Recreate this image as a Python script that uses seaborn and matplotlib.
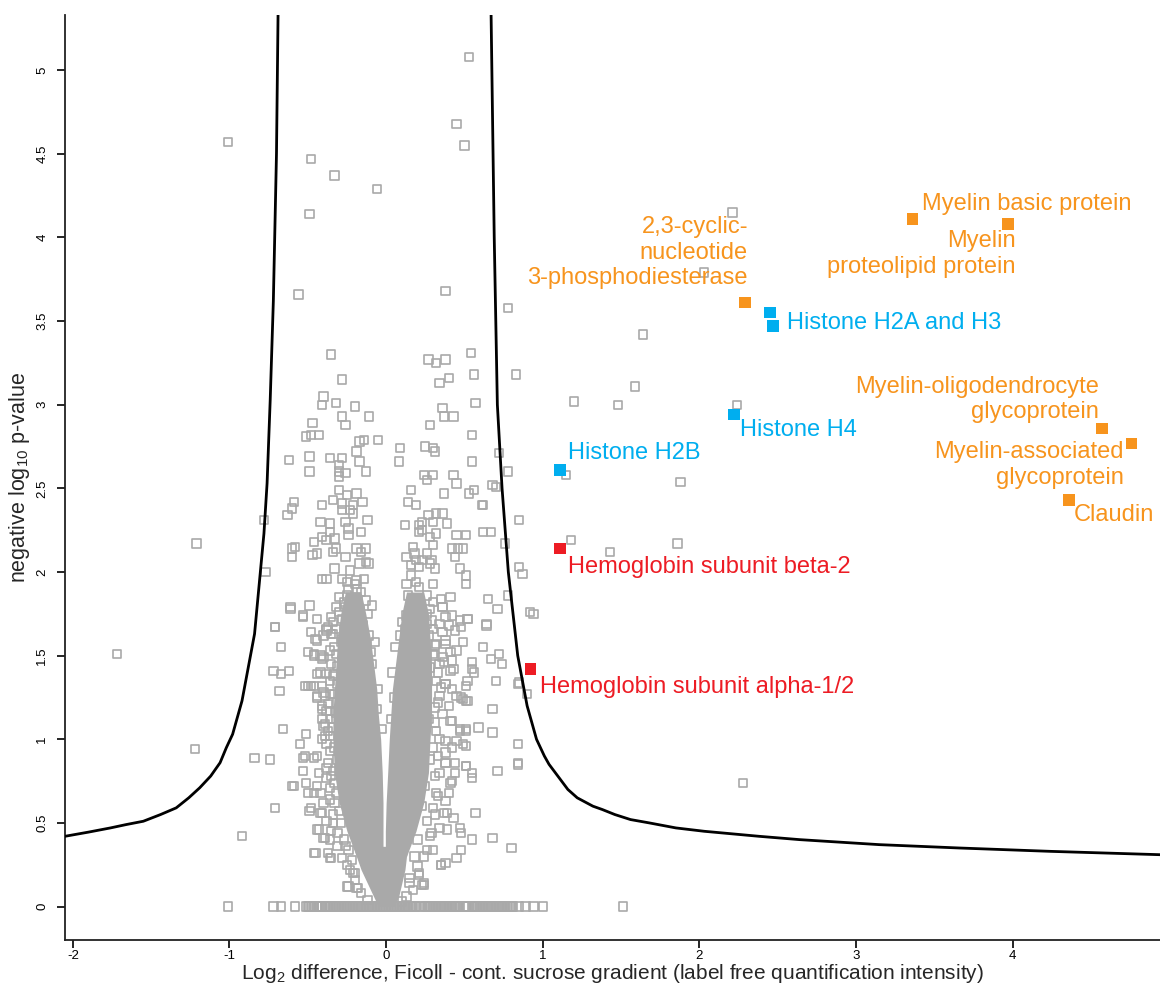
import numpy as np
import pandas as pd
import matplotlib
matplotlib.use("Agg")
import matplotlib.pyplot as plt
import seaborn as sns

# ---------------- data ----------------
# isolated grey proteins (x = log2 difference, y = -log10 p)
gray_outliers = [
    (-1.72, 1.51), (-1.21, 2.17), (-1.22, 0.94), (-0.92, 0.42), (-0.84, 0.89), (-0.74, 0.88),
    (-0.71, 0.59), (-0.78, 2.31), (-0.77, 2.00), (-0.71, 1.67), (-0.67, 1.55), (-0.68, 1.29),
    (-0.66, 1.06), (-0.72, 1.41), (-0.67, 1.39), (-0.62, 1.41), (-0.62, 2.67), (-0.59, 2.42),
    (-0.60, 2.38), (-0.63, 2.34), (-0.58, 2.15), (-0.60, 2.14), (-0.60, 2.09), (-0.61, 1.78),
    (-0.59, 0.72), (-1.01, 4.57), (-0.48, 4.47), (-0.33, 4.37), (-0.49, 4.14), (-0.56, 3.66),
    (-0.06, 4.29), (0.45, 4.68), (0.50, 4.55), (0.53, 5.08), (0.38, 3.68), (0.78, 3.58),
    (2.03, 3.79), (2.21, 4.15), (1.64, 3.42), (1.59, 3.11), (1.48, 3.00), (1.20, 3.02),
    (2.24, 3.00), (1.15, 2.58), (1.88, 2.54), (1.18, 2.19), (1.43, 2.12), (1.86, 2.17),
    (0.92, 1.76), (2.28, 0.74), (0.80, 0.35), (0.84, 0.86), (0.84, 1.33), (0.85, 2.03),
    (0.87, 1.99), (0.85, 2.31), (0.83, 3.18), (0.78, 2.60), (0.72, 2.71), (0.70, 1.35),
    (0.85, 1.34), (0.90, 1.27), (0.68, 1.18), (0.68, 1.04), (0.84, 0.97), (0.84, 0.85),
    (0.71, 0.81), (0.68, 0.41), (0.94, 1.75), (0.71, 1.78), (0.65, 1.84), (0.78, 1.86),
    (0.76, 2.17), (0.62, 2.24), (0.67, 2.24), (0.68, 2.52), (0.70, 2.51), (0.62, 2.40),
]

# upper part of the cloud (roughly y 1.9 - 3.3)
gray_upper = [
    (-0.35, 3.30), (-0.28, 3.15), (-0.40, 3.05), (-0.32, 3.01), (-0.41, 3.00), (-0.20, 2.99),
    (-0.28, 2.93), (-0.11, 2.93), (-0.47, 2.89), (-0.26, 2.88), (-0.51, 2.81), (-0.48, 2.82),
    (-0.43, 2.82), (-0.17, 2.78), (-0.14, 2.79), (-0.05, 2.79), (-0.19, 2.72), (-0.49, 2.69),
    (-0.36, 2.68), (-0.28, 2.68), (-0.17, 2.66), (-0.49, 2.60), (-0.30, 2.64), (-0.30, 2.60),
    (-0.26, 2.59), (-0.30, 2.57), (-0.13, 2.60), (-0.30, 2.49), (-0.25, 2.46), (-0.19, 2.47),
    (-0.41, 2.40), (-0.34, 2.43), (-0.28, 2.41), (-0.28, 2.37), (-0.23, 2.37), (-0.21, 2.40),
    (-0.15, 2.42), (-0.21, 2.35), (-0.12, 2.31), (-0.42, 2.30), (-0.36, 2.29), (-0.36, 2.24),
    (-0.26, 2.30), (-0.24, 2.26), (-0.24, 2.22), (-0.16, 2.24), (-0.46, 2.18), (-0.41, 2.21),
    (-0.38, 2.19), (-0.33, 2.20), (-0.47, 2.10), (-0.44, 2.11), (-0.34, 2.12), (-0.32, 2.14),
    (-0.26, 2.09), (-0.19, 2.14), (-0.13, 2.14), (-0.16, 2.12), (-0.33, 2.02), (-0.23, 2.01),
    (-0.17, 2.05), (-0.13, 2.06), (-0.11, 2.05), (-0.41, 1.96), (-0.38, 1.96), (-0.28, 1.96),
    (-0.25, 1.94), (-0.19, 1.95), (-0.14, 1.96),
    (0.54, 3.31), (0.27, 3.27), (0.32, 3.25), (0.38, 3.27), (0.56, 3.18), (0.34, 3.13),
    (0.40, 3.16), (0.57, 3.01), (0.36, 2.98), (0.37, 2.93), (0.43, 2.93), (0.28, 2.88),
    (0.55, 2.82), (0.09, 2.74), (0.25, 2.75), (0.30, 2.74), (0.31, 2.72), (0.08, 2.66),
    (0.55, 2.66), (0.24, 2.58), (0.30, 2.58), (0.26, 2.55), (0.43, 2.58), (0.45, 2.53),
    (0.16, 2.49), (0.37, 2.47), (0.53, 2.47), (0.56, 2.49), (0.14, 2.42), (0.19, 2.40),
    (0.61, 2.40), (0.27, 2.34), (0.32, 2.35), (0.36, 2.35), (0.30, 2.30), (0.12, 2.28),
    (0.21, 2.28), (0.23, 2.30), (0.21, 2.24), (0.23, 2.25), (0.39, 2.29), (0.32, 2.23),
    (0.28, 2.21), (0.30, 2.16), (0.45, 2.22), (0.51, 2.22), (0.42, 2.14), (0.46, 2.14),
    (0.49, 2.14), (0.17, 2.15), (0.13, 2.09), (0.18, 2.11), (0.26, 2.11), (0.23, 2.07),
    (0.19, 2.07), (0.16, 2.04), (0.21, 2.03), (0.44, 2.09), (0.47, 2.02), (0.51, 1.98),
    (0.51, 1.93), (0.31, 2.02), (0.30, 1.93), (0.16, 1.98), (0.13, 1.93), (0.19, 1.94),
    (0.21, 1.91), (0.28, 2.05), (0.29, 2.07),
]

# looser points around the two arms of the cloud (y below 1.9)
gray_arms = [
    (-0.30, 1.85), (-0.25, 1.86), (-0.19, 1.90), (-0.32, 1.79), (-0.26, 1.79), (-0.21, 1.79),
    (-0.17, 1.77), (-0.12, 1.75), (-0.35, 1.73), (-0.28, 1.72), (-0.23, 1.71), (-0.19, 1.69),
    (-0.49, 1.80), (-0.53, 1.74), (-0.44, 1.72), (-0.37, 1.67), (-0.61, 1.79), (-0.53, 1.73),
    (-0.71, 1.67), (-0.38, 1.65), (-0.34, 1.63), (-0.44, 1.59), (-0.48, 1.64), (-0.45, 1.60),
    (-0.38, 1.66), (-0.35, 1.63), (-0.50, 1.52), (-0.46, 1.51), (-0.40, 1.49), (-0.46, 1.50),
    (-0.41, 1.48), (-0.36, 1.53), (-0.32, 1.51), (-0.42, 1.40), (-0.44, 1.39), (-0.38, 1.39),
    (-0.34, 1.38), (-0.33, 1.39), (-0.52, 1.32), (-0.48, 1.32), (-0.41, 1.32), (-0.50, 1.32),
    (-0.46, 1.32), (-0.44, 1.26), (-0.40, 1.28), (-0.36, 1.27), (-0.39, 1.26), (-0.33, 1.27),
    (-0.44, 1.25), (-0.41, 1.20), (-0.38, 1.17), (-0.41, 1.18), (-0.36, 1.17), (-0.32, 1.16),
    (-0.40, 1.08), (-0.37, 1.05), (-0.41, 1.00), (-0.36, 1.02), (-0.51, 1.03), (-0.39, 1.09),
    (-0.34, 1.07), (-0.39, 1.02), (-0.55, 0.97), (-0.53, 0.89), (-0.46, 0.89), (-0.44, 0.90),
    (-0.52, 0.90), (-0.53, 0.81), (-0.38, 0.83), (-0.34, 0.81), (-0.30, 0.83), (-0.51, 0.74),
    (-0.60, 0.72), (-0.44, 0.72), (-0.38, 0.77), (-0.33, 0.74), (-0.42, 0.68), (-0.50, 0.68),
    (-0.46, 0.68), (-0.36, 0.71), (-0.32, 0.68), (-0.48, 0.59), (-0.49, 0.57), (-0.41, 0.56),
    (-0.42, 0.56), (-0.38, 0.51), (-0.34, 0.50), (-0.29, 0.50), (-0.44, 0.46), (-0.43, 0.46),
    (-0.40, 0.41), (-0.39, 0.41), (-0.35, 0.45), (-0.46, 0.32), (-0.45, 0.32), (-0.37, 0.32),
    (-0.35, 0.29), (-0.36, 0.29), (-0.28, 0.29), (-0.31, 0.36), (-0.23, 0.22), (-0.21, 0.20),
    (-0.20, 0.20), (-0.25, 0.12), (-0.24, 0.12), (-0.19, 0.11), (-0.18, 0.11),
    (-0.31, 1.44), (-0.29, 1.58), (-0.31, 1.33), (-0.31, 1.22), (-0.32, 1.12), (-0.33, 0.95),
    (-0.31, 0.88), (-0.33, 0.62), (-0.30, 0.57), (-0.27, 0.40), (-0.24, 0.34), (-0.22, 0.28),
    (-0.09, 1.45), (-0.07, 1.58), (-0.11, 1.62), (-0.05, 1.30), (-0.06, 1.18), (-0.03, 1.06),
    (-0.15, 1.68), (-0.10, 1.52), (-0.13, 1.57), (-0.25, 1.66), (-0.21, 1.62), (-0.28, 1.60),
    (0.13, 1.74), (0.17, 1.71), (0.21, 1.73), (0.26, 1.75), (0.29, 1.71), (0.34, 1.69),
    (0.36, 1.79), (0.38, 1.73), (0.42, 1.74), (0.47, 1.71), (0.52, 1.72), (0.28, 1.78),
    (0.23, 1.77), (0.16, 1.82), (0.35, 1.84), (0.41, 1.85), (0.64, 1.69), (0.16, 1.81),
    (0.36, 1.79), (0.52, 1.72), (0.64, 1.68), (0.49, 1.58), (0.62, 1.55), (0.38, 1.57),
    (0.45, 1.53), (0.31, 1.50), (0.37, 1.46), (0.42, 1.47), (0.55, 1.46), (0.67, 1.48),
    (0.72, 1.51), (0.74, 1.45), (0.55, 1.42), (0.56, 1.40), (0.52, 1.35), (0.51, 1.32),
    (0.38, 1.33), (0.45, 1.26), (0.49, 1.24), (0.52, 1.23), (0.41, 1.11), (0.47, 1.06),
    (0.51, 1.06), (0.59, 1.07), (0.38, 0.99), (0.49, 0.97), (0.51, 0.96), (0.51, 0.84),
    (0.55, 0.80), (0.55, 0.77), (0.38, 0.86), (0.44, 0.80), (0.41, 0.74), (0.57, 0.56),
    (0.39, 0.56), (0.43, 0.53), (0.39, 0.46), (0.47, 0.47), (0.48, 0.44), (0.55, 0.40),
    (0.30, 0.34), (0.48, 0.34), (0.45, 0.29), (0.35, 0.25), (0.38, 0.26), (0.21, 0.19),
    (0.23, 0.13), (0.24, 0.14), (0.15, 0.14), (0.24, 1.61), (0.32, 1.57), (0.38, 1.59),
    (0.44, 1.65), (0.48, 1.67), (0.30, 1.51), (0.36, 1.49), (0.41, 1.52), (0.28, 1.43),
    (0.34, 1.45), (0.41, 1.41), (0.32, 1.35), (0.38, 1.33), (0.42, 1.30), (0.48, 1.25),
    (0.51, 1.23), (0.34, 1.26), (0.31, 1.19), (0.36, 1.15), (0.42, 1.11), (0.47, 1.05),
    (0.51, 1.05), (0.45, 0.99), (0.32, 1.05), (0.30, 0.95), (0.38, 0.92), (0.38, 0.86),
    (0.44, 0.86), (0.51, 0.84), (0.34, 0.80), (0.42, 0.75), (0.32, 0.68), (0.38, 0.63),
    (0.30, 0.59), (0.37, 0.56), (0.26, 0.51), (0.29, 0.44), (0.26, 0.34), (0.35, 0.25),
    (0.21, 0.20), (0.24, 0.13), (0.15, 0.17), (0.27, 1.62), (0.26, 1.38), (0.27, 1.12),
    (0.28, 0.88), (0.25, 0.72), (0.23, 0.60), (0.20, 0.40), (0.18, 0.30), (0.06, 1.55),
    (0.04, 1.40), (0.05, 1.25), (0.03, 1.12), (0.09, 1.62), (0.12, 1.66), (0.19, 1.60),
]

# points along the fuzzy edge of the saturated core
gray_edge = [
    (-0.36, 0.40), (-0.34, 0.55), (-0.36, 0.64), (-0.35, 0.78), (-0.37, 0.86), (-0.36, 0.93),
    (-0.38, 0.97), (-0.35, 1.12), (-0.37, 1.21), (-0.36, 1.35), (-0.35, 1.45), (-0.33, 1.55),
    (-0.32, 1.66), (-0.30, 1.76), (-0.27, 1.82), (-0.24, 1.90), (-0.22, 1.84), (-0.16, 1.88),
    (-0.13, 1.83), (-0.20, 1.93), (-0.09, 1.80), (-0.34, 1.70), (-0.40, 1.62), (-0.42, 1.50),
    (-0.41, 1.12), (-0.43, 0.80), (-0.40, 0.62), (-0.31, 0.44), (-0.26, 0.36), (-0.25, 0.25),
    (-0.20, 0.16), (-0.16, 0.08), (-0.12, 0.04),
    (0.28, 0.42), (0.31, 0.55), (0.33, 0.66), (0.31, 0.78), (0.33, 0.90), (0.34, 1.00),
    (0.31, 1.10), (0.33, 1.22), (0.35, 1.31), (0.33, 1.40), (0.31, 1.56), (0.36, 1.64),
    (0.30, 1.66), (0.26, 1.69), (0.22, 1.80), (0.18, 1.76), (0.10, 1.70), (0.14, 1.86),
    (0.26, 1.86), (0.30, 1.82), (0.40, 1.68), (0.43, 1.42), (0.40, 1.20), (0.42, 0.95),
    (0.40, 0.68), (0.34, 0.47), (0.24, 0.30), (0.20, 0.24), (0.17, 0.10), (0.13, 0.06),
    (0.10, 0.03),
]

# proteins with p-value 1 sit on y = 0
zero_row_x = [
    -1.01, -0.72, -0.67, -0.58,
    -0.51, -0.50, -0.49, -0.48, -0.47, -0.46, -0.44, -0.43, -0.42, -0.41, -0.39, -0.38,
    -0.37, -0.36, -0.35, -0.34, -0.33, -0.32, -0.31, -0.30, -0.29, -0.28, -0.27, -0.26,
    -0.25, -0.24, -0.23, -0.22, -0.21, -0.20, -0.19, -0.18, -0.17, -0.16, -0.15, -0.14,
    -0.13, -0.12, -0.11, -0.10, -0.09, -0.08, -0.07, -0.06, -0.05, -0.04, -0.03, -0.02,
    -0.01, 0.00, 0.01, 0.02, 0.03, 0.04, 0.05, 0.06, 0.07, 0.08, 0.09, 0.10, 0.11, 0.12,
    0.13, 0.14, 0.15, 0.16, 0.17, 0.18, 0.19, 0.22, 0.25, 0.26, 0.27, 0.28, 0.29, 0.30,
    0.31, 0.32, 0.33, 0.34, 0.35, 0.36, 0.37, 0.38, 0.39, 0.40, 0.41, 0.42, 0.43, 0.44,
    0.45, 0.46, 0.47, 0.50, 0.51, 0.52, 0.55, 0.56, 0.57, 0.58, 0.59, 0.60, 0.61, 0.62,
    0.63, 0.64, 0.65, 0.66, 0.67, 0.68, 0.69, 0.70, 0.71, 0.72, 0.73, 0.74, 0.75, 0.76,
    0.77, 0.78, 0.79, 0.80, 0.81, 0.85, 0.89, 0.94, 1.00, 1.51,
]

# outline of the saturated centre of the cloud (where squares overlap completely)
arm_y = [0.30, 0.45, 0.62, 0.80, 1.00, 1.15, 1.30, 1.45, 1.60, 1.75, 1.88]
left_arm_lo = [-0.19, -0.25, -0.30, -0.33, -0.34, -0.34, -0.33, -0.32, -0.31, -0.29, -0.26]
left_arm_hi = [-0.02, -0.02, -0.02, -0.025, -0.035, -0.05, -0.06, -0.08, -0.10, -0.13, -0.16]
right_arm_lo = [-0.005, -0.005, 0.0, 0.01, 0.02, 0.03, 0.04, 0.06, 0.08, 0.10, 0.13]
right_arm_hi = [0.13, 0.19, 0.24, 0.27, 0.28, 0.29, 0.29, 0.29, 0.28, 0.27, 0.24]
base_y = [0.0, 0.06, 0.14, 0.22, 0.30, 0.36]
base_lo = [-0.05, -0.08, -0.12, -0.16, -0.19, -0.21]
base_hi = [0.05, 0.08, 0.10, 0.12, 0.13, 0.14]

# significance curve
curve_left_x = [-0.69, -0.70, -0.72, -0.74, -0.76, -0.78, -0.81, -0.84, -0.88, -0.92, -0.98,
                -1.02, -1.06, -1.12, -1.19, -1.26, -1.34, -1.44, -1.55, -1.66, -1.76, -1.90, -2.05]
curve_left_y = [5.33, 4.50, 3.62, 3.03, 2.53, 2.23, 1.93, 1.63, 1.43, 1.23, 1.03,
                0.95, 0.86, 0.78, 0.71, 0.65, 0.59, 0.55, 0.51, 0.49, 0.47, 0.445, 0.42]
curve_right_x = [0.67, 0.69, 0.71, 0.74, 0.78, 0.84, 0.90, 0.93, 0.96, 1.01, 1.04, 1.08, 1.12,
                 1.16, 1.22, 1.32, 1.38, 1.46, 1.56, 1.68, 1.85, 2.03, 2.38, 2.64, 3.15, 3.66,
                 4.24, 4.94]
curve_right_y = [5.33, 4.00, 3.00, 2.50, 2.00, 1.50, 1.20, 1.10, 1.00, 0.90, 0.85, 0.80, 0.75,
                 0.70, 0.65, 0.60, 0.58, 0.55, 0.52, 0.50, 0.47, 0.45, 0.42, 0.40, 0.37, 0.35,
                 0.33, 0.31]

# highlighted proteins
hl_x = [2.29, 3.36, 3.97, 4.57, 4.76, 4.36, 2.45, 2.47, 2.22, 1.11, 1.11, 0.92]
hl_y = [3.61, 4.11, 4.08, 2.86, 2.77, 2.43, 3.55, 3.47, 2.94, 2.61, 2.14, 1.42]
hl_group = ["myelin"] * 6 + ["histone"] * 4 + ["hemoglobin"] * 2

labels = [
    "Myelin basic protein",
    "Myelin\nproteolipid protein",
    "2,3-cyclic-\nnucleotide\n3-phosphodiesterase",
    "Histone H2A and H3",
    "Myelin-oligodendrocyte\nglycoprotein",
    "Myelin-associated\nglycoprotein",
    "Claudin",
    "Histone H4",
    "Histone H2B",
    "Hemoglobin subunit beta-2",
    "Hemoglobin subunit alpha-1/2",
]
label_x = [3.42, 4.02, 2.31, 2.56, 4.55, 4.71, 4.39, 2.26, 1.16, 1.16, 0.98]
label_y = [4.20, 3.90, 3.91, 3.49, 3.03, 2.64, 2.34, 2.85, 2.71, 2.03, 1.31]
label_ha = ["left", "right", "right", "left", "right", "right", "left", "left", "left", "left", "left"]
label_group = ["myelin", "myelin", "myelin", "histone", "myelin", "myelin", "myelin",
               "histone", "histone", "hemoglobin", "hemoglobin"]

x_ticks = [-2, -1, 0, 1, 2, 3, 4]
x_ticklabels = ["-2", "-1", "0", "1", "2", "3", "4"]
y_ticks = [0, 0.5, 1, 1.5, 2, 2.5, 3, 3.5, 4, 4.5, 5]
y_ticklabels = ["0", "0.5", "1", "1.5", "2", "2.5", "3", "3.5", "4", "4.5", "5"]

# ---------------- plotting ----------------
sns.set_style("white")
plt.rcParams["font.family"] = ["Liberation Sans", "DejaVu Sans"]
plt.rcParams["mathtext.fontset"] = "custom"
plt.rcParams["mathtext.rm"] = "Liberation Sans"
plt.rcParams["mathtext.it"] = "Liberation Sans"

GREY = "#A9A9A9"
palette = {"myelin": "#F7941D", "histone": "#00AEEF", "hemoglobin": "#ED1C24"}

fig = plt.figure(figsize=(11.6, 9.96), dpi=100)
ax = fig.add_axes([65 / 1160, 1 - 940 / 996, 1 - 65 / 1160, (940 - 15) / 996])

# saturated core of the cloud
ax.fill_betweenx(arm_y, left_arm_lo, left_arm_hi, color=GREY, lw=0)
ax.fill_betweenx(arm_y, right_arm_lo, right_arm_hi, color=GREY, lw=0)
ax.fill_betweenx(base_y, base_lo, base_hi, color=GREY, lw=0)

gray = pd.DataFrame(gray_outliers + gray_upper + gray_arms + gray_edge, columns=["x", "y"])
zero = pd.DataFrame({"x": zero_row_x, "y": [0.0] * len(zero_row_x)})
gray = pd.concat([gray, zero], ignore_index=True)

sns.scatterplot(data=gray, x="x", y="y", marker="s", s=36, color=GREY,
                facecolor="none", edgecolor=GREY, linewidth=1.2, ax=ax, zorder=2)

sns.lineplot(x=curve_left_x, y=curve_left_y, sort=False, estimator=None,
             color="black", linewidth=2.0, ax=ax, zorder=3)
sns.lineplot(x=curve_right_x, y=curve_right_y, sort=False, estimator=None,
             color="black", linewidth=2.0, ax=ax, zorder=3)

hl = pd.DataFrame({"x": hl_x, "y": hl_y, "group": hl_group})
sns.scatterplot(data=hl, x="x", y="y", hue="group", palette=palette, marker="s",
                s=66, linewidth=0, legend=False, ax=ax, zorder=4)

for txt, tx, ty, ha, grp in zip(labels, label_x, label_y, label_ha, label_group):
    ax.text(tx, ty, txt, ha=ha, va="center", multialignment=ha,
            fontsize=17, color=palette[grp], zorder=5)

ax.set_xlim(-2.05, 4.94)
ax.set_ylim(-0.2, 5.33)
ax.set_xticks(x_ticks)
ax.set_xticklabels(x_ticklabels)
ax.set_yticks(y_ticks)
ax.set_yticklabels(y_ticklabels, rotation=90, va="center")
ax.tick_params(axis="both", direction="out", length=6, width=1.2, labelsize=9.5,
               colors="black", bottom=True, left=True)
ax.tick_params(axis="x", pad=1)
ax.tick_params(axis="y", pad=6)

for side in ["top", "right"]:
    ax.spines[side].set_visible(False)
for side in ["left", "bottom"]:
    ax.spines[side].set_color("#222222")
    ax.spines[side].set_linewidth(1.3)

ax.set_xlabel("Log$_2$ difference, Ficoll - cont. sucrose gradient (label free quantification intensity)",
              fontsize=15, labelpad=0)
ax.set_ylabel("negative log$_{10}$ p-value", fontsize=15.5, labelpad=3)

fig.savefig("out.png", dpi=100)
